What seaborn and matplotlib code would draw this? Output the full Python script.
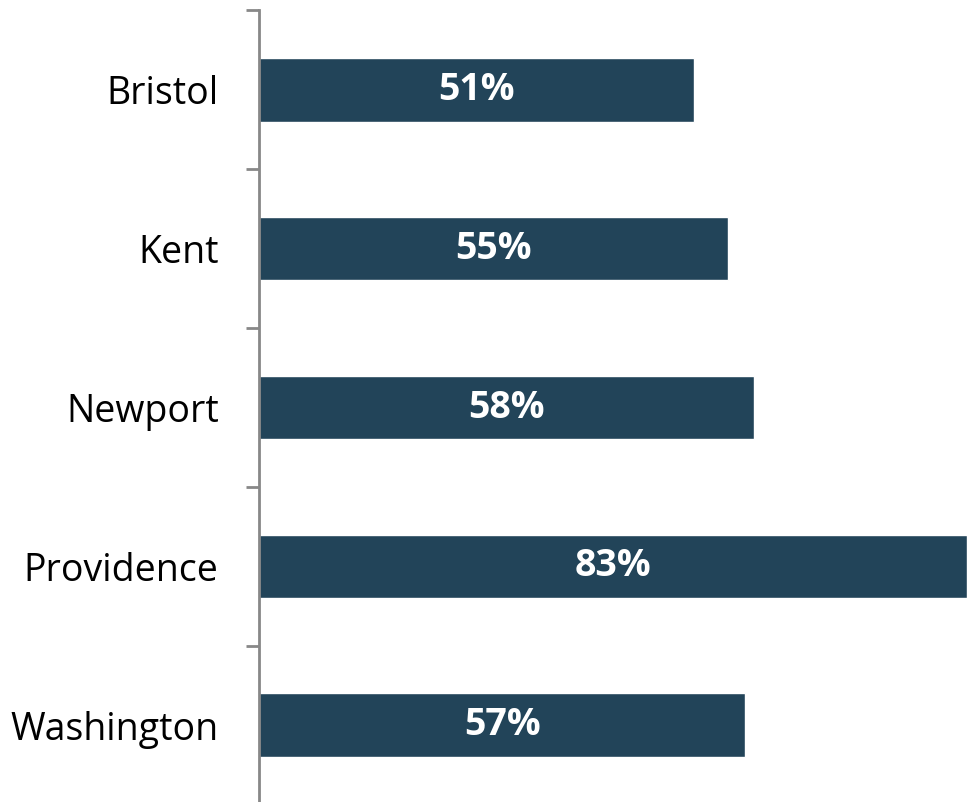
import seaborn as sns
import pandas as pd
import matplotlib.pyplot as plt
from matplotlib.ticker import FixedLocator

counties = ['Bristol', 'Kent', 'Newport', 'Providence', 'Washington']
shares = [51, 55, 58, 83, 57]

df = pd.DataFrame({'county': counties, 'share': shares})

sns.set_theme(style='white')
plt.rcParams['font.family'] = ['Open Sans', 'DejaVu Sans']

fig = plt.figure(figsize=(9.67, 8.02), dpi=100)
ax = fig.add_axes([259 / 967, -2.5 / 802, 1 - 259 / 967, 794 / 802])

sns.barplot(data=df, x='share', y='county', orient='h', color='#224459',
            width=0.4, saturation=1, ax=ax)

for i, v in enumerate(shares):
    ax.text(v / 2, i, f'{v}%', ha='center', va='center', color='white',
            fontsize=27, fontweight='bold')

ax.set_xlim(0, 83)
ax.set_ylim(4.5, -0.5)
ax.set_xlabel('')
ax.set_ylabel('')
ax.set_xticks([])
ax.yaxis.set_minor_locator(FixedLocator([-0.5, 0.5, 1.5, 2.5, 3.5, 4.5]))
ax.tick_params(axis='y', which='major', length=0, pad=29, labelsize=27,
               labelcolor='black')
ax.tick_params(axis='y', which='minor', length=9.5, width=2, color='#888888',
               left=True)
for s in ['top', 'right', 'bottom']:
    ax.spines[s].set_visible(False)
ax.spines['left'].set_color('#888888')
ax.spines['left'].set_linewidth(2)

fig.savefig('out.png', dpi=100)
